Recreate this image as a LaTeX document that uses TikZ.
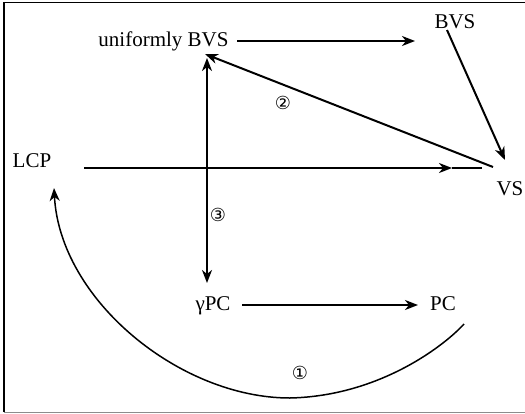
\documentclass[tikz,border=0pt]{standalone}
\usepackage{fontspec}
\setmainfont{Liberation Serif}
\newfontfamily\circfont{DejaVu Sans}
\usetikzlibrary{arrows.meta}
\begin{document}
\begin{tikzpicture}[x=1pt,y=-1pt,
  lbl/.style={font=\fontsize{21}{24}\selectfont, inner sep=0pt, anchor=base},
  num/.style={font=\circfont\fontsize{18}{20}\selectfont, inner sep=0pt},
  tip/.tip={Stealth[length=13pt,width=10pt,inset=4pt]},
  conn/.style={line width=2pt, -tip},
  both/.style={line width=2pt, tip-tip},
  plain/.style={line width=2pt},
  curv/.style={line width=1.5pt, -tip}]
\useasboundingbox (0,0) rectangle (525,413);
% frame
\draw[line width=1.5pt] (4,412) -- (4,2.5) -- (525,2.5);
\draw[line width=1pt, black!45] (4,412) -- (525,412);
% nodes
\node[lbl] (ub) at (163.5,46) {uniformly BVS};
\node[lbl] (bvs) at (455,28) {BVS};
\node[lbl] (lcp) at (32,167) {LCP};
\node[lbl] (vs) at (510,195) {VS};
\node[lbl] (gpc) at (213,310) {γPC};
\node[lbl] (pc) at (443,310) {PC};
\node[num] (n1) at (300,373) {①};
\node[num] (n2) at (283,103) {②};
\node[num] (n3) at (218,215) {③};
% connector ends
\coordinate (a1) at (237,41);
\coordinate (a2) at (415,41);
\coordinate (b1) at (447,30);
\coordinate (b2) at (505,160);
\coordinate (c1) at (493,167);
\coordinate (c2) at (205,54);
\coordinate (h1) at (84,168);
\coordinate (h2) at (452,168);
\coordinate (h3) at (482,168);
\coordinate (v1) at (207,58);
\coordinate (v2) at (207,283);
\coordinate (g1) at (242,305);
\coordinate (g2) at (418,305);
\coordinate (k1) at (464,324);
\coordinate (k2) at (290,398);
\coordinate (k3) at (54,188);
% connectors
\draw[conn] (a1) -- (a2);
\draw[conn] (b1) -- (b2);
\draw[conn] (c1) -- (c2);
\draw[conn] (h1) -- (h2);
\draw[plain] (h2) -- (h3);
\draw[both] (v1) -- (v2);
\draw[conn] (g1) -- (g2);
\draw[curv] (k1) .. controls (445,345) and (380,396) .. (k2)
  .. controls (180,398) and (60,300) .. (k3);
\end{tikzpicture}
\end{document}
